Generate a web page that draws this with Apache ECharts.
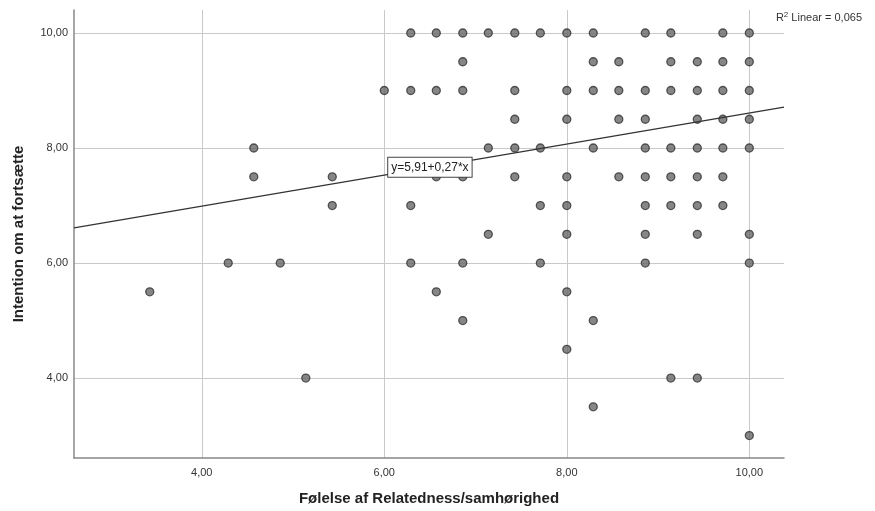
<!DOCTYPE html>
<html>
<head>
    <meta charset="utf-8">
    <title>Relatedness / intention</title>
    <script src="https://cdn.jsdelivr.net/npm/echarts@6/dist/echarts.min.js"></script>
    <style>
        body { margin: 0; background: #fff; }
        #main { width: 875px; height: 511px; }
    </style>
</head>
<body>
<div id="main"></div>
<script type="text/javascript">
// x-vaerdier ligger i trin af 1/7, y-vaerdier i trin af 0,5
var rowY = [10, 9.5, 9, 8.5, 8, 7.5, 7, 6.5, 6, 5.5, 5, 4.5, 4, 3.5, 3];
var rowX = [
    [6.29, 6.57, 6.86, 7.14, 7.43, 7.71, 8.0, 8.29, 8.86, 9.14, 9.71, 10],
    [6.86, 8.29, 8.57, 9.14, 9.43, 9.71, 10],
    [6.0, 6.29, 6.57, 6.86, 7.43, 8.0, 8.29, 8.57, 8.86, 9.14, 9.43, 9.71, 10],
    [7.43, 8.0, 8.57, 8.86, 9.43, 9.71, 10],
    [4.57, 7.14, 7.43, 7.71, 8.29, 8.86, 9.14, 9.43, 9.71, 10],
    [4.57, 5.43, 6.57, 6.86, 7.43, 8.0, 8.57, 8.86, 9.14, 9.43, 9.71],
    [5.43, 6.29, 7.71, 8.0, 8.86, 9.14, 9.43, 9.71],
    [7.14, 8.0, 8.86, 9.43, 10],
    [4.29, 4.86, 6.29, 6.86, 7.71, 8.86, 10],
    [3.43, 6.57, 8.0],
    [6.86, 8.29],
    [8.0],
    [5.14, 9.14, 9.43],
    [8.29],
    [10]
];
var tickValues = [4, 6, 8, 10];
var fitIntercept = 5.91;
var fitSlope = 0.27;
var xRange = [2.6, 10.38];
var yRange = [2.61, 10.4];

var points = [];
for (var i = 0; i < rowY.length; i++) {
    for (var j = 0; j < rowX[i].length; j++) {
        points.push([rowX[i][j], rowY[i]]);
    }
}
var fitLine = [
    [xRange[0], fitIntercept + fitSlope * xRange[0]],
    [xRange[1], fitIntercept + fitSlope * xRange[1]]
];
var labelX = 6.5;

function fmt(v) {
    return v.toFixed(2).replace('.', ',');
}

var myChart = echarts.init(document.getElementById('main'));
var font = '"Liberation Sans", Arial, sans-serif';
var option = {
    animation: false,
    textStyle: { fontFamily: font },
    grid: { left: 74, top: 10, right: 91, bottom: 53 },
    graphic: [{
        type: 'text',
        right: 13,
        top: 11,
        style: {
            text: '{n|R}{s|2}{n| Linear = 0,065}',
            rich: {
                n: { fontSize: 11, fill: '#333', fontFamily: font },
                s: { fontSize: 8, fill: '#333', fontFamily: font, verticalAlign: 'top', padding: [0, 0, 6, 0] }
            }
        }
    }],
    xAxis: {
        type: 'value',
        min: xRange[0],
        max: xRange[1],
        name: 'Følelse af Relatedness/samhørighed',
        nameLocation: 'middle',
        nameGap: 33,
        nameTextStyle: { fontSize: 15, fontWeight: 'bold', color: '#222' },
        axisLine: { lineStyle: { color: '#888', width: 1.5 } },
        axisTick: { show: false, customValues: tickValues },
        axisLabel: { customValues: tickValues, formatter: fmt, fontSize: 11, color: '#333', margin: 9 },
        splitLine: { show: true, lineStyle: { color: '#c9c9c9', width: 1 } }
    },
    yAxis: {
        type: 'value',
        min: yRange[0],
        max: yRange[1],
        name: 'Intention om at fortsætte',
        nameLocation: 'middle',
        nameGap: 48,
        nameTextStyle: { fontSize: 15, fontWeight: 'bold', color: '#222' },
        axisLine: { show: true, lineStyle: { color: '#888', width: 1.5 } },
        axisTick: { show: false, customValues: tickValues },
        axisLabel: { customValues: tickValues, formatter: fmt, fontSize: 11, color: '#333', margin: 6 },
        splitLine: { show: true, lineStyle: { color: '#c9c9c9', width: 1 } }
    },
    series: [{
        type: 'line',
        data: fitLine,
        symbol: 'none',
        lineStyle: { color: '#333', width: 1.2 },
        silent: true,
        z: 3,
        markPoint: {
            symbol: 'rect',
            symbolSize: 1,
            itemStyle: { color: 'rgba(0,0,0,0)' },
            label: {
                show: true,
                formatter: 'y=5,91+0,27*x',
                position: 'inside',
                fontSize: 12,
                color: '#222',
                backgroundColor: '#fff',
                borderColor: '#444',
                borderWidth: 1,
                padding: [4, 3, 3, 3]
            },
            data: [{ coord: [labelX, fitIntercept + fitSlope * labelX] }]
        }
    }, {
        type: 'scatter',
        data: points,
        symbolSize: 8,
        itemStyle: { color: '#686868', borderColor: '#333', borderWidth: 1.3 },
        z: 2
    }]
};
myChart.setOption(option);
</script>
</body>
</html>
